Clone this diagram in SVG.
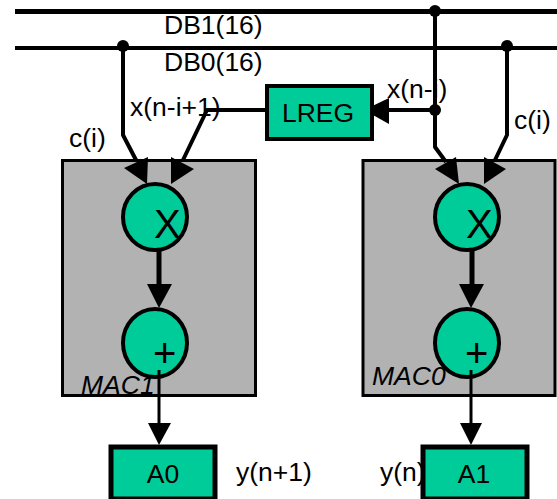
<svg xmlns="http://www.w3.org/2000/svg" width="557" height="499" viewBox="0 0 557 499">
<style>
text{font-family:"Liberation Sans",Arial,sans-serif;font-size:26.500px;fill:#000}
.box{fill:#00cc99;stroke:#000;stroke-width:4}
.mac{fill:#b2b2b2;stroke:#000;stroke-width:3}
.w{fill:none;stroke:#000;stroke-width:4;stroke-linejoin:round}
.t{fill:none;stroke:#000;stroke-width:5}
.th{fill:none;stroke:#000;stroke-width:3}
.a{fill:#000}
.c{text-anchor:middle}
.m{font-style:italic}
</style>
<g id="labels">
<text x="164" y="34">DB1(16)</text><text x="164" y="71">DB0(16)</text>
<text x="130" y="116">x(n-i+1)</text><text x="387" y="98">x(n-i)</text>
<text x="69" y="147">c(i)</text><text x="514" y="129">c(i)</text>
<text x="236" y="481">y(n+1)</text><text x="380" y="481">y(n)</text>
</g>
<g id="mac1"><rect class="mac" x="62.500" y="160.500" width="193" height="235"/><text class="m" x="81" y="394">MAC1</text></g>
<g id="mac0"><rect class="mac" x="363" y="160.500" width="192" height="235"/><text class="m" x="372" y="385">MAC0</text></g>
<g id="connectors">
<path class="t" d="M15 11.500H557"/>
<path class="w" d="M15 48H557"/>
<circle class="a" cx="123" cy="46" r="6"/><circle class="a" cx="435" cy="11" r="6"/><circle class="a" cx="507" cy="46" r="6"/><circle class="a" cx="435" cy="110" r="6"/>
<path class="w" d="M123 46V135L136 160"/>
<path class="w" d="M266 110H207L183 160"/>
<path class="w" d="M435 11V147L446 162"/>
<path class="w" d="M507 46V135L495 160"/>
<path class="w" d="M435 110H385"/>
<polygon class="a" points="124,168 148,157 147,184"/>
<polygon class="a" points="171,157 194,169 171,184"/>
<polygon class="a" points="435,169 456,157 459,184"/>
<polygon class="a" points="484,157 506,169 484,184"/>
<polygon class="a" points="364,110 389,98 389,124"/>
<path class="t" d="M159 250V290"/>
<polygon class="a" points="147,284 172,284 159,308"/>
<path class="t" d="M472 250V290"/>
<polygon class="a" points="459,284 484,284 471,308"/>
</g>
<g id="mul1"><ellipse class="box" cx="155" cy="217" rx="32" ry="33"/><text x="154" y="238" style="font-size:40px">X</text></g>
<g id="add1"><ellipse class="box" cx="155" cy="343" rx="32" ry="34"/><text x="153" y="367" style="font-size:40px">+</text></g>
<g id="mul0"><ellipse class="box" cx="467" cy="217" rx="32" ry="33"/><text x="466" y="238" style="font-size:40px">X</text></g>
<g id="add0"><ellipse class="box" cx="467" cy="343" rx="32" ry="34"/><text x="465" y="367" style="font-size:40px">+</text></g>
<g id="out">
<path class="th" d="M159 370V430"/><polygon class="a" points="148,423 171,423 159,445"/>
<path class="th" d="M471 370V430"/><polygon class="a" points="460,423 482,423 471,445"/>
</g>
<g id="lreg"><rect class="box" x="267" y="86" width="105" height="53"/><text class="c" x="318" y="122">LREG</text></g>
<g id="a0"><rect class="box" x="111" y="447" width="104" height="52" style="stroke-width:5"/><text class="c" x="163" y="483">A0</text></g>
<g id="a1"><rect class="box" x="423" y="447" width="104" height="52" style="stroke-width:5"/><text class="c" x="474" y="483">A1</text></g>
</svg>
